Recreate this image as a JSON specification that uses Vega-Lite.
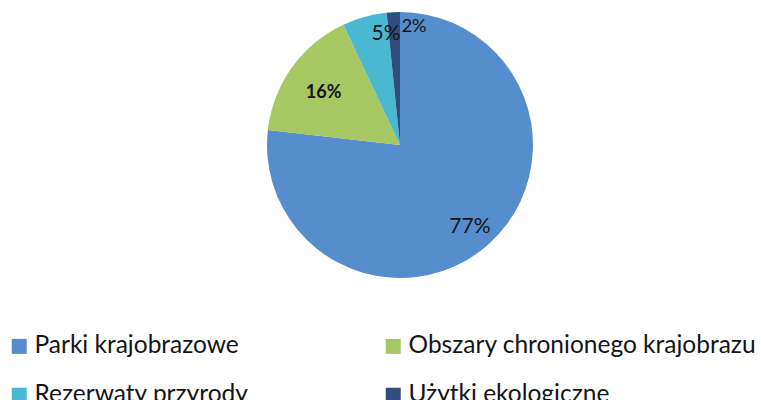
{
  "$schema": "https://vega.github.io/schema/vega-lite/v6.json",
  "width": 800,
  "height": 290,
  "padding": 0,
  "autosize": {"type": "pad"},
  "background": "white",
  "data": {
    "values": [
      {"kolejnosc": 1, "nazwa": "Parki krajobrazowe", "udzial": 76.8, "etykieta": "77%"},
      {"kolejnosc": 2, "nazwa": "Obszary chronionego krajobrazu", "udzial": 16.2, "etykieta": "16%"},
      {"kolejnosc": 3, "nazwa": "Rezerwaty przyrody", "udzial": 5.4, "etykieta": "5%"},
      {"kolejnosc": 4, "nazwa": "Użytki ekologiczne", "udzial": 1.6, "etykieta": "2%"}
    ]
  },
  "encoding": {
    "theta": {"field": "udzial", "type": "quantitative", "stack": true},
    "order": {"field": "kolejnosc", "type": "quantitative"}
  },
  "layer": [
    {
      "mark": {"type": "arc", "outerRadius": 133},
      "encoding": {
        "color": {
          "field": "nazwa",
          "type": "nominal",
          "sort": ["Parki krajobrazowe", "Obszary chronionego krajobrazu", "Rezerwaty przyrody", "Użytki ekologiczne"],
          "scale": {
            "domain": ["Parki krajobrazowe", "Obszary chronionego krajobrazu", "Rezerwaty przyrody", "Użytki ekologiczne"],
            "range": ["#568DCD", "#A6C762", "#4BB8D1", "#2F4E7D"]
          },
          "legend": {
            "title": null,
            "orient": "none",
            "legendX": 7,
            "legendY": 334,
            "direction": "horizontal",
            "columns": 2,
            "columnPadding": 132,
            "rowPadding": 24,
            "padding": 0,
            "symbolType": "square",
            "symbolSize": 225,
            "symbolStrokeWidth": 0,
            "symbolOpacity": 1,
            "labelOffset": 3,
            "labelFont": "Lato",
            "labelFontSize": 24.5,
            "labelColor": "#141414",
            "labelLimit": 500
          }
        }
      }
    },
    {
      "mark": {"type": "text", "radius": 105, "dy": 4, "font": "Lato", "fontSize": 21, "color": "#141414"},
      "encoding": {
        "text": {"condition": {"test": "datum.nazwa === 'Parki krajobrazowe'", "field": "etykieta"}, "value": ""}
      }
    },
    {
      "mark": {"type": "text", "radius": 94, "dy": 3, "font": "Lato", "fontSize": 18, "fontWeight": "bold", "color": "#141414"},
      "encoding": {
        "text": {"condition": {"test": "datum.nazwa === 'Obszary chronionego krajobrazu'", "field": "etykieta"}, "value": ""}
      }
    },
    {
      "mark": {"type": "text", "radius": 112, "dx": 16, "dy": -3, "font": "Lato", "fontSize": 21, "color": "#141414"},
      "encoding": {
        "text": {"condition": {"test": "datum.nazwa === 'Rezerwaty przyrody'", "field": "etykieta"}, "value": ""}
      }
    },
    {
      "mark": {"type": "text", "radius": 118, "dx": 20, "font": "Lato", "fontSize": 18, "color": "#141414"},
      "encoding": {
        "text": {"condition": {"test": "datum.nazwa === 'Użytki ekologiczne'", "field": "etykieta"}, "value": ""}
      }
    }
  ]
}
